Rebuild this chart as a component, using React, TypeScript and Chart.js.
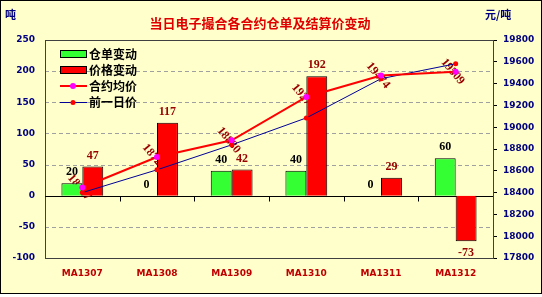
import React, { useEffect, useRef } from 'react';
import { Chart, registerables } from 'chart.js';
Chart.register(...registerables);

const categories = ['MA1307', 'MA1308', 'MA1309', 'MA1310', 'MA1311', 'MA1312'];
const warrantChange = [20, 0, 40, 40, 0, 60];
const priceChange = [47, 117, 42, 192, 29, -73];
const avgPrice = [18447, 18726, 18880, 19277, 19474, 19509];
const prevPrice = [18400, 18609, 18838, 19085, 19445, 19582];

const titleText = '当日电子撮合各合约仓单及结算价变动';
const leftUnit = '吨';
const rightUnit = '元/吨';
const seriesNames = ['仓单变动', '价格变动', '合约均价', '前一日价'];

const BG = '#FFFFCC';
const NAVY = '#000080';
const DARKRED = '#990000';
const CJK = '"Noto Sans CJK SC", sans-serif';
const NUM = '"DejaVu Sans", sans-serif';
const SERIF = '"Liberation Serif", serif';

const decorPlugin = {
  id: 'decor',
  beforeDraw(chart: any) {
    const ctx = chart.ctx;
    ctx.save();
    ctx.fillStyle = '#FFFFFF';
    ctx.fillRect(0, 0, chart.width, chart.height);
    ctx.fillStyle = BG;
    ctx.fillRect(0, 0, chart.width, 294);
    ctx.strokeStyle = '#000';
    ctx.lineWidth = 1;
    ctx.strokeRect(0.5, 0.5, chart.width - 1, 293);
    ctx.restore();
  },
  beforeDatasetsDraw(chart: any) {
    const ctx = chart.ctx;
    const a = chart.chartArea;
    const y = chart.scales.y;
    ctx.save();
    ctx.strokeStyle = '#A0A0A0';
    ctx.lineWidth = 1;
    ctx.setLineDash([4, 3]);
    for (let v = -50; v < 250; v += 50) {
      if (v === 0) continue;
      const py = Math.round(y.getPixelForValue(v)) + 0.5;
      ctx.beginPath();
      ctx.moveTo(a.left, py);
      ctx.lineTo(a.right, py);
      ctx.stroke();
    }
    ctx.setLineDash([]);
    ctx.strokeStyle = '#404040';
    ctx.strokeRect(Math.round(a.left) + 0.5, Math.round(a.top) + 0.5, Math.round(a.right - a.left), Math.round(a.bottom - a.top));
    const y0 = Math.round(y.getPixelForValue(0)) + 0.5;
    ctx.strokeStyle = '#000';
    ctx.beginPath();
    ctx.moveTo(a.left, y0);
    ctx.lineTo(a.right, y0);
    ctx.stroke();
    const n = categories.length;
    const w = (a.right - a.left) / n;
    for (let i = 1; i < n; i++) {
      const px = Math.round(a.left + w * i) + 0.5;
      ctx.beginPath();
      ctx.moveTo(px, y0);
      ctx.lineTo(px, y0 + 5);
      ctx.stroke();
    }
    const meta = chart.getDatasetMeta(2);
    ctx.fillStyle = DARKRED;
    ctx.font = `bold 12px ${SERIF}`;
    ctx.textAlign = 'center';
    ctx.textBaseline = 'middle';
    meta.data.forEach((pt: any, i: number) => {
      ctx.save();
      ctx.translate(pt.x - 3, pt.y);
      ctx.rotate((50 * Math.PI) / 180);
      ctx.fillText(String(avgPrice[i]), 0, 0);
      ctx.restore();
    });
    ctx.restore();
  },
  afterDatasetsDraw(chart: any) {
    const ctx = chart.ctx;
    ctx.save();
    ctx.font = `bold 12px ${SERIF}`;
    ctx.textAlign = 'center';
    ctx.textBaseline = 'middle';
    [0, 1].forEach((di) => {
      const meta = chart.getDatasetMeta(di);
      const vals = di === 0 ? warrantChange : priceChange;
      ctx.fillStyle = di === 0 ? '#000' : DARKRED;
      meta.data.forEach((bar: any, i: number) => {
        const v = vals[i];
        const ty = v >= 0 ? bar.y - 11 : bar.y + 12;
        ctx.fillText(String(v), bar.x, ty);
      });
    });
    ctx.restore();
  },
  afterDraw(chart: any) {
    const ctx = chart.ctx;
    ctx.save();
    ctx.textBaseline = 'middle';
    ctx.textAlign = 'center';
    ctx.fillStyle = '#E00000';
    ctx.font = `bold 13px ${CJK}`;
    ctx.fillText(titleText, 260, 23);
    ctx.fillStyle = NAVY;
    ctx.font = `bold 11px ${CJK}`;
    ctx.textAlign = 'left';
    ctx.fillText(leftUnit, 5, 15);
    ctx.fillText(rightUnit, 485, 15);
    const lx = 60;
    const rows = [54, 70, 86, 102];
    ctx.lineWidth = 1;
    ctx.fillStyle = '#33FF33';
    ctx.fillRect(lx, rows[0] - 4, 26, 8);
    ctx.strokeStyle = '#000';
    ctx.strokeRect(lx + 0.5, rows[0] - 4 + 0.5, 26, 7);
    ctx.fillStyle = '#FF0000';
    ctx.fillRect(lx, rows[1] - 4, 26, 8);
    ctx.strokeRect(lx + 0.5, rows[1] - 4 + 0.5, 26, 7);
    ctx.strokeStyle = '#FF0000';
    ctx.lineWidth = 2;
    ctx.beginPath();
    ctx.moveTo(lx, rows[2]);
    ctx.lineTo(lx + 27, rows[2]);
    ctx.stroke();
    ctx.fillStyle = '#FF00FF';
    ctx.beginPath();
    ctx.arc(lx + 13, rows[2], 3, 0, Math.PI * 2);
    ctx.fill();
    ctx.strokeStyle = '#000099';
    ctx.lineWidth = 1;
    ctx.beginPath();
    ctx.moveTo(lx, rows[3] + 0.5);
    ctx.lineTo(lx + 27, rows[3] + 0.5);
    ctx.stroke();
    ctx.fillStyle = '#FF0000';
    ctx.beginPath();
    ctx.arc(lx + 13, rows[3] + 0.5, 2.5, 0, Math.PI * 2);
    ctx.fill();
    ctx.fillStyle = '#000';
    ctx.font = `bold 12px ${CJK}`;
    seriesNames.forEach((s, i) => ctx.fillText(s, lx + 29, rows[i]));
    ctx.restore();
  },
};

export default function App() {
  const ref = useRef<HTMLCanvasElement | null>(null);
  useEffect(() => {
    document.body.style.margin = '0';
    if (!ref.current) return;
    const tickFont = { family: NUM, weight: 'bold' as const, size: 9 };
    const plain = (v: any) => String(v);
    const chart = new Chart(ref.current, {
      type: 'bar',
      data: {
        labels: categories,
        datasets: [
          {
            type: 'bar',
            label: seriesNames[0],
            data: warrantChange,
            backgroundColor: '#33FF33',
            borderColor: '#000',
            borderWidth: 1,
            yAxisID: 'y',
            order: 2,
            categoryPercentage: 0.56,
            barPercentage: 1,
          },
          {
            type: 'bar',
            label: seriesNames[1],
            data: priceChange,
            backgroundColor: '#FF0000',
            borderColor: '#000',
            borderWidth: 1,
            yAxisID: 'y',
            order: 2,
            categoryPercentage: 0.56,
            barPercentage: 1,
          },
          {
            type: 'line',
            label: seriesNames[2],
            data: avgPrice,
            borderColor: '#FF0000',
            borderWidth: 2,
            pointBackgroundColor: '#FF00FF',
            pointBorderColor: '#FF00FF',
            pointRadius: 3,
            pointBorderWidth: 0,
            yAxisID: 'y1',
            order: 0,
          },
          {
            type: 'line',
            label: seriesNames[3],
            data: prevPrice,
            borderColor: '#000099',
            borderWidth: 1,
            pointBackgroundColor: '#FF0000',
            pointBorderColor: '#FF0000',
            pointRadius: 2.5,
            pointBorderWidth: 0,
            yAxisID: 'y1',
            order: 1,
          },
        ] as any,
      },
      options: {
        responsive: false,
        animation: false,
        layout: { padding: { top: 40, left: 0, right: 0, bottom: 0 } },
        plugins: { legend: { display: false }, tooltip: { enabled: false }, title: { display: false } },
        scales: {
          x: {
            grid: { display: false, drawTicks: false },
            border: { display: false },
            ticks: { color: '#C00000', font: tickFont, padding: 10, maxRotation: 0 },
            afterFit: (s: any) => { s.height = 39; },
          },
          y: {
            position: 'left',
            min: -100,
            max: 250,
            ticks: { stepSize: 50, color: NAVY, font: tickFont, padding: 10, callback: plain },
            grid: { display: false, drawTicks: false },
            border: { display: false },
            afterFit: (s: any) => { s.width = 45; },
          },
          y1: {
            position: 'right',
            min: 17800,
            max: 19800,
            ticks: { stepSize: 200, color: NAVY, font: tickFont, padding: 6, callback: plain },
            grid: { drawOnChartArea: false, tickLength: 4, color: '#000' },
            border: { display: true, color: '#404040' },
            afterFit: (s: any) => { s.width = 49; },
          },
        } as any,
      },
      plugins: [decorPlugin],
    });
    return () => chart.destroy();
  }, []);
  return (
    <div style={{ width: 542, height: 297 }}>
      <canvas ref={ref} width={542} height={297} />
    </div>
  );
}
